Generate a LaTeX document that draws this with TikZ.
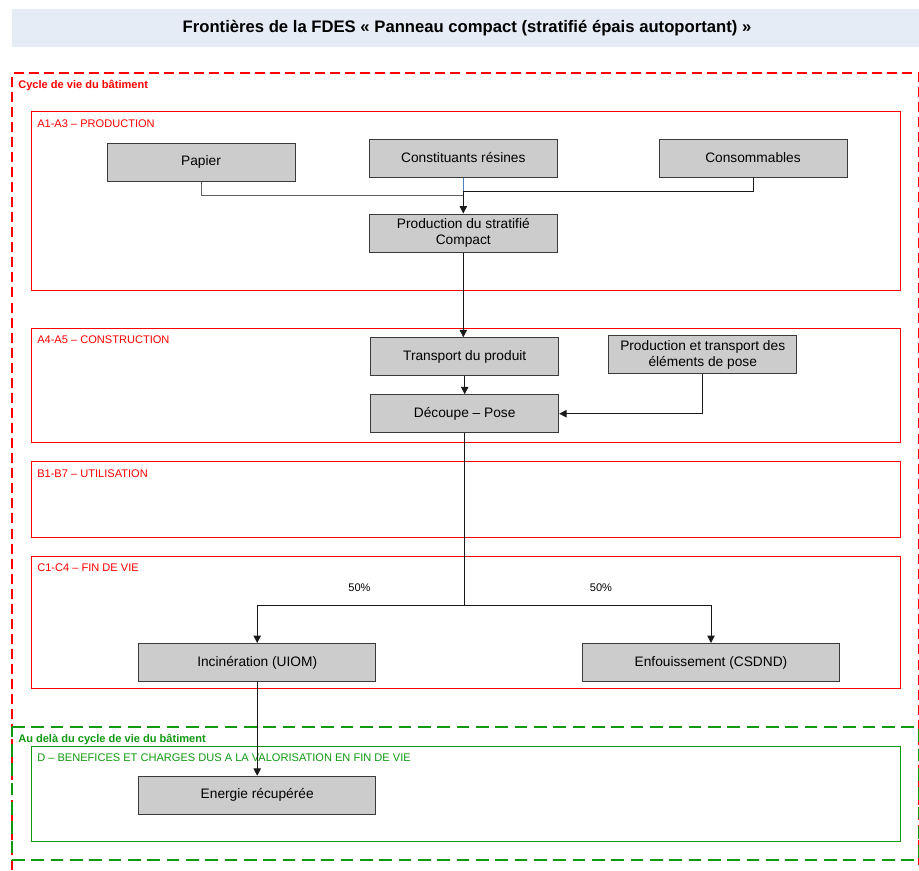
\documentclass[tikz,border=0pt]{standalone}
\usepackage{fontspec}
\setmainfont{Liberation Sans}
\usetikzlibrary{arrows.meta,calc}
\definecolor{titlebg}{HTML}{E6ECF6}
\definecolor{boxfill}{HTML}{CCCCCC}
\definecolor{boxline}{HTML}{3A3A3A}
\definecolor{redc}{HTML}{FF0000}
\definecolor{greenc}{HTML}{129A12}
\definecolor{linkc}{HTML}{1A1A1A}
\definecolor{bluec}{HTML}{4F81BD}
\begin{document}
\begin{tikzpicture}[x=0.75pt,y=-0.75pt,
  procbox/.style={draw=boxline,fill=boxfill,line width=0.75pt,inner sep=0pt,align=center,
    font=\fontsize{10.3pt}{12pt}\selectfont,minimum height={38*0.75pt}},
  sectbox/.style={draw=redc,line width=0.75pt},
  sectlabel/.style={text=redc,anchor=west,inner sep=0pt,font=\fontsize{8.3pt}{10pt}\selectfont},
  grouplabel/.style={anchor=west,inner sep=0pt,font=\fontsize{8.3pt}{10pt}\selectfont\bfseries},
  link/.style={draw=linkc,line width=0.75pt},
  arr/.style={link,-{Triangle[length=5.5pt,width=5.5pt]}},
  pct/.style={inner sep=0pt,font=\fontsize{8.3pt}{10pt}\selectfont}]
\useasboundingbox (0,0) rectangle (919,870);
\fill[white] (0,0) rectangle (919,870);
% title bar
\fill[titlebg] (12,9) rectangle (919,46.7);
\node[inner sep=0pt,font=\fontsize{12.5pt}{14pt}\selectfont\bfseries] (title) at (467,28)
  {Frontières de la FDES « Panneau compact (stratifié épais autoportant) »};
% outer groups
\draw[redc,line width=1.3pt,dash pattern=on 7.5pt off 3.8pt] (12,870) -- (12,73) -- (918.6,73) -- (918.6,870);
\node[grouplabel,text=redc] (cyc) at (18,85.5) {Cycle de vie du bâtiment};
\draw[greenc,line width=1.3pt,dash pattern=on 9.5pt off 5pt] (12,727.3) -- (918.6,727.3) -- (918.6,860) -- (12,860) -- cycle;
\node[grouplabel,text=greenc] (aud) at (18,739.5) {Au delà du cycle de vie du bâtiment};
% section boxes
\draw[sectbox] (31.5,112) rectangle (900,290.3);
\node[sectlabel] (l1) at (37,123.5) {A1-A3 – PRODUCTION};
\draw[sectbox] (31.5,328.7) rectangle (900,442);
\node[sectlabel] (l2) at (37,340) {A4-A5 – CONSTRUCTION};
\draw[sectbox] (31.5,461.7) rectangle (900,537.3);
\node[sectlabel] (l3) at (37,473.5) {B1-B7 – UTILISATION};
\draw[sectbox] (31.5,556.3) rectangle (900,688.7);
\node[sectlabel] (l4) at (37,567.5) {C1-C4 – FIN DE VIE};
\draw[greenc,line width=0.75pt] (31.5,746.3) rectangle (900,841);
\node[sectlabel,text=greenc] (l5) at (37,758) {D – BENEFICES ET CHARGES DUS A LA VALORISATION EN FIN DE VIE};
% process boxes
\node[procbox,minimum width={188*0.75pt}] (pap) at (201,162) {Papier};
\node[procbox,minimum width={188*0.75pt}] (res) at (463.3,158) {Constituants résines};
\node[procbox,minimum width={188*0.75pt}] (con) at (753,158) {Consommables};
\node[procbox,minimum width={188*0.75pt}] (prod) at (463.3,233) {Production du stratifié\\Compact};
\node[procbox,minimum width={188*0.75pt}] (tra) at (464.7,356.7) {Transport du produit};
\node[procbox,minimum width={188*0.75pt}] (ele) at (702.7,354.7) {Production et transport des\\éléments de pose};
\node[procbox,minimum width={188*0.75pt}] (dec) at (464.7,413.7) {Découpe – Pose};
\node[procbox,minimum width={237*0.75pt}] (inc) at (257.2,662.5) {Incinération (UIOM)};
\node[procbox,minimum width={256.7*0.75pt}] (enf) at (711,662.5) {Enfouissement (CSDND)};
\node[procbox,minimum width={237*0.75pt}] (ene) at (257.2,795.3) {Energie récupérée};
% junction coordinates
\coordinate (jp) at (463.3,195);
\coordinate (jc) at (463.3,191);
\coordinate (js) at (464.7,605.7);
% connectors
\draw[link,draw=boxline!80] (pap.south) |- (jp);
\draw[draw=bluec,line width=0.6pt] (res.south) -- (jc);
\draw[arr] (con.south) |- (jc) -- (prod.north);
\draw[arr] (prod.south) -- (prod.south |- tra.north);
\draw[arr] (tra.south) -- (dec.north);
\draw[arr] (ele.south) |- (dec.east);
\draw[link] (dec.south) -- (js);
\draw[arr] (js) -| (inc.north);
\draw[arr] (js) -| (enf.north);
\draw[arr] (inc.south) -- (ene.north);
% percentages
\node[pct] (p1) at (359.5,587.5) {50\%};
\node[pct] (p2) at (601,587.5) {50\%};
\end{tikzpicture}
\end{document}
